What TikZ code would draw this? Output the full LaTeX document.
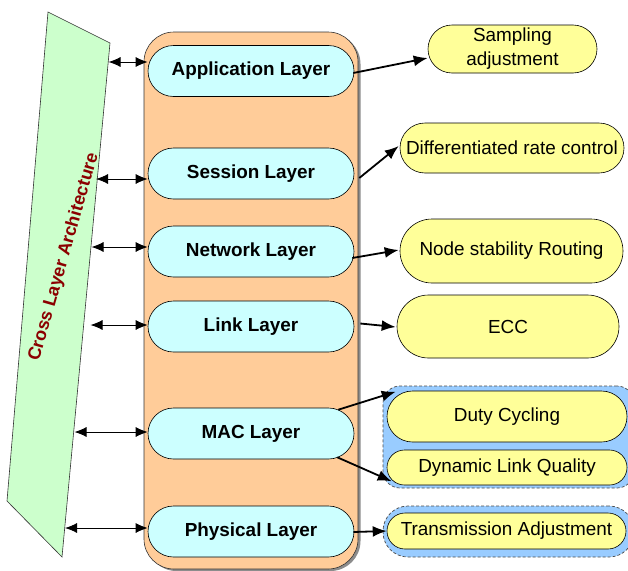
\documentclass[tikz,border=0pt]{standalone}
\usepackage{fontspec}
\setmainfont{Liberation Sans}
\usetikzlibrary{arrows.meta,calc}
\definecolor{grn}{HTML}{CCFFCC}
\definecolor{org}{HTML}{FFCC99}
\definecolor{cyn}{HTML}{CCFFFF}
\definecolor{ylw}{HTML}{FFFF99}
\definecolor{blu}{HTML}{99CCFF}
\definecolor{dred}{HTML}{8B0000}
\begin{document}
\begin{tikzpicture}[x=1pt,y=-1pt,
  layer/.style={draw=black, line width=0.6pt, fill=cyn, rounded corners=25.5pt, minimum width=206pt, minimum height=51pt, inner sep=0pt, font=\bfseries\fontsize{18.9}{21}\selectfont},
  outbox/.style={draw=black, line width=0.6pt, fill=ylw, inner sep=0pt, font=\fontsize{18.9}{24}\selectfont, align=center},
  grp/.style={draw=black!70, dash pattern=on 3pt off 2pt, line width=0.7pt, fill=blu, inner sep=0pt},
  rarr/.style={line width=1.8pt, -{Latex[length=14pt,width=11pt]}},
  biarr/.style={line width=0.9pt, {Latex[length=12pt,width=10pt]}-{Latex[length=12pt,width=10pt]}},
]
\useasboundingbox (0,0) rectangle (628,570);

% cross layer panel
\coordinate (g1) at (48,12);
\coordinate (g2) at (110,43);
\coordinate (g3) at (62,557);
\coordinate (g4) at (7,501);
\draw[fill=grn, line width=0.6pt, draw=black!80] (g1) -- (g2) -- (g3) -- (g4) -- cycle;
\node[rotate=74, text=dred, inner sep=0pt, font=\bfseries\fontsize{18}{20}\selectfont] (cla) at (64,257) {Cross Layer Architecture};

% layer stack
\fill[black!45, rounded corners=30pt] (146.5,34) rectangle (360.5,571);
\node[draw=black!80, line width=0.6pt, fill=org, rounded corners=30pt, minimum width=214pt, minimum height=537pt, inner sep=0pt] (stack) at (251,300.5) {};

\node[layer] (app) at (251,71) {Application Layer};
\node[layer] (ses) at (251,173.5) {Session Layer};
\node[layer] (net) at (251,251.5) {Network Layer};
\node[layer] (lnk) at (251,326.5) {Link Layer};
\node[layer] (mac) at (251,433.5) {MAC Layer};
\node[layer] (phy) at (251,531.5) {Physical Layer};

% right side boxes
\node[grp, rounded corners=17pt, minimum width=251pt, minimum height=102pt] (grpA) at (508.5,437) {};
\node[grp, rounded corners=25pt, minimum width=251pt, minimum height=51pt] (grpB) at (508.5,531.5) {};

\node[outbox, rounded corners=24pt, minimum width=169pt, minimum height=48pt] (samp) at (512.5,49) {Sampling\\adjustment};
\node[outbox, rounded corners=25pt, minimum width=224pt, minimum height=50pt] (diff) at (512,148) {Differentiated rate control};
\node[outbox, rounded corners=32pt, minimum width=223pt, minimum height=64pt] (nsr) at (511.5,251) {Node stability Routing};
\node[outbox, rounded corners=31.5pt, minimum width=222pt, minimum height=63pt] (ecc) at (508,326.5) {ECC};
\node[outbox, rounded corners=25.5pt, minimum width=240pt, minimum height=51pt] (duty) at (507,416.5) {Duty Cycling};
\node[outbox, rounded corners=17.5pt, minimum width=240pt, minimum height=35pt] (dlq) at (507,467.5) {Dynamic Link Quality};
\node[outbox, rounded corners=18pt, minimum width=239pt, minimum height=36pt] (trans) at (506.5,531) {Transmission Adjustment};

% left double arrows
\coordinate (a1) at (108.5,62);
\coordinate (a2) at (96,179);
\coordinate (a3) at (91.5,247);
\coordinate (a4) at (90.5,325);
\coordinate (a5) at (74.5,432);
\coordinate (a6) at (65,528);
\draw[biarr] (a1) -- (app.west |- a1);
\draw[biarr] (a2) -- (ses.west |- a2);
\draw[biarr] (a3) -- (net.west |- a3);
\draw[biarr] (a4) -- (lnk.west |- a4);
\draw[biarr] (a5) -- (mac.west |- a5);
\draw[biarr] (a6) -- (phy.west |- a6);

% right arrows
\draw[rarr] ($(app.east)+(-1,2)$) -- ($(samp.west)+(0,9)$);
\draw[rarr] ($(ses.east)+(5,4.5)$) -- ($(diff.west)+(-1,-2)$);
\draw[rarr] ($(net.east)+(-2,6.5)$) -- ($(nsr.west)+(-1,-1)$);
\draw[rarr] ($(lnk.east)+(6,-3)$) -- ($(ecc.west)+(-1,0.5)$);
\draw[rarr] ($(mac.north east)+(-16,2)$) -- ($(duty.north west)+(9,1)$);
\draw[rarr] ($(mac.south east)+(-17,-2)$) -- ($(dlq.south west)+(5,-4)$);
\draw[rarr] ($(phy.east)+(-1,0.5)$) -- (trans.west);
\end{tikzpicture}
\end{document}
